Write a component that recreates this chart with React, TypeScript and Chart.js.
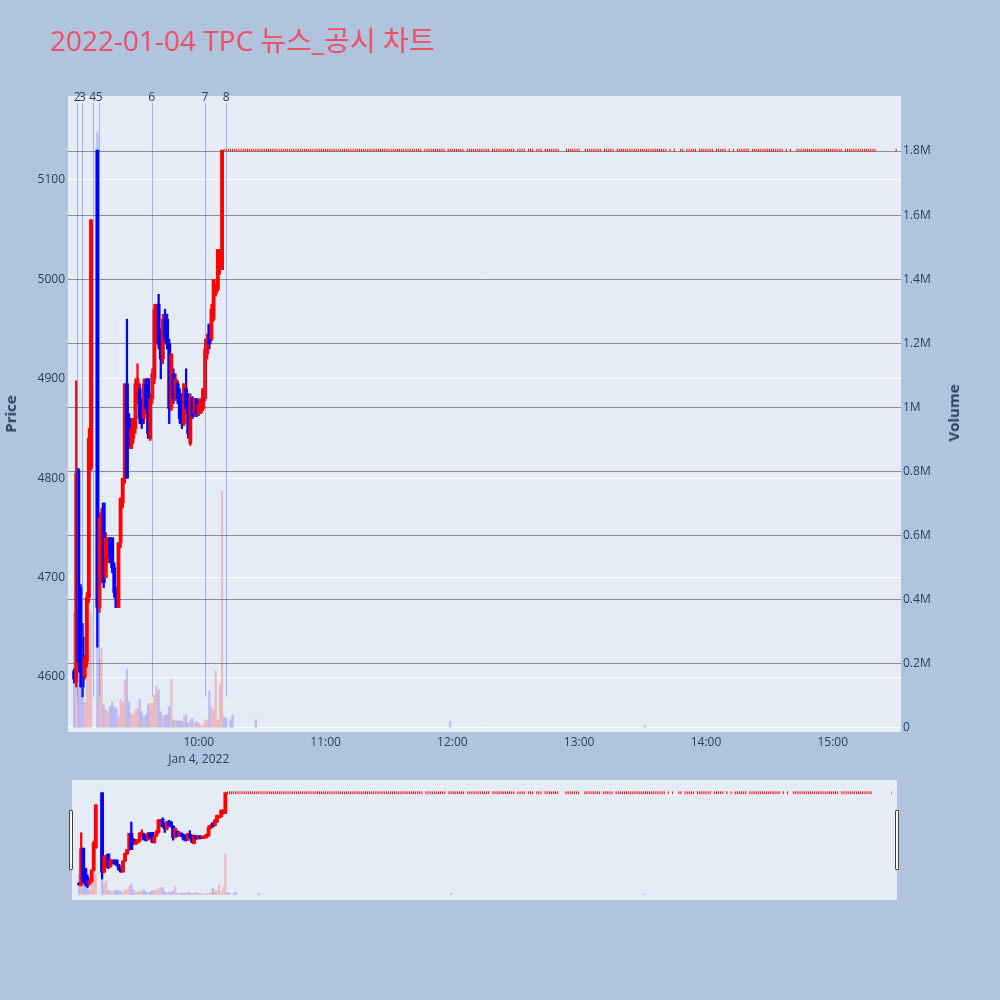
import React, { useEffect, useRef } from "react";
import { Chart, registerables } from "chart.js";

Chart.register(...registerables);

// ---------------- data ----------------
const TITLE = "2022-01-04 TPC 뉴스_공시 차트";
const DATE_LABEL = "Jan 4, 2022";

// First session: one candle per minute, minute = index + 1 (minutes after 09:00); null = no trade (VI halt)
const openPrices: (number | null)[] = [
  4606, 4595, 4808, 4690, 4640, 4600, 4615, 4680, 4810, null, null, 5130,
  4670, 4700, 4775, 4700, 4720, 4740, 4740, 4710, 4690, 4670, 4735, 4775,
  4800, 4895, 4860, 4830, 4840, 4850, 4880, 4890, 4880, 4860, 4895, 4900,
  4840, 4880, 4900, 4940, 4975, 4945, 4920, 4960, 4960, 4935, 4870, 4905,
  4880, 4895, 4885, 4880, 4855, 4890, 4880, 4835, 4880, 4865, 4880, 4865,
  4866, 4870, 4880, 4925, 4955, 4940, 4960, 4985, 4990, 5010, 5010,
];
const highPrices: (number | null)[] = [
  4608, 4898, 4810, 4693, 4654, 4622, 4685, 4850, 5060, null, null, 5130,
  4765, 4770, 4775, 4745, 4740, 4740, 4740, 4715, 4690, 4735, 4780, 4800,
  4895, 4960, 4865, 4860, 4860, 4900, 4915, 4895, 4880, 4900, 4900, 4900,
  4885, 4910, 4975, 4975, 4985, 4950, 4965, 4970, 4965, 4940, 4925, 4910,
  4905, 4898, 4890, 4885, 4895, 4910, 4885, 4885, 4882, 4880, 4880, 4878,
  4880, 4890, 4940, 4945, 4955, 4975, 5000, 4995, 5030, 5030, 5130,
];
const lowPrices: (number | null)[] = [
  4594, 4590, 4605, 4590, 4580, 4598, 4610, 4675, 4808, null, null, 4630,
  4665, 4695, 4690, 4700, 4715, 4715, 4705, 4680, 4670, 4670, 4730, 4770,
  4795, 4800, 4830, 4830, 4835, 4845, 4875, 4855, 4850, 4855, 4865, 4840,
  4838, 4875, 4895, 4935, 4930, 4900, 4915, 4935, 4930, 4855, 4868, 4875,
  4878, 4875, 4855, 4850, 4853, 4865, 4840, 4833, 4860, 4862, 4862, 4863,
  4865, 4868, 4878, 4920, 4930, 4938, 4958, 4983, 4988, 5005, 5010,
];
const closePrices: (number | null)[] = [
  4598, 4805, 4615, 4605, 4590, 4620, 4680, 4840, 5060, null, null, 4670,
  4760, 4765, 4695, 4740, 4740, 4720, 4710, 4685, 4670, 4735, 4780, 4800,
  4895, 4800, 4835, 4850, 4860, 4895, 4900, 4860, 4855, 4895, 4870, 4845,
  4880, 4905, 4970, 4975, 4935, 4920, 4960, 4940, 4935, 4870, 4925, 4880,
  4900, 4880, 4860, 4855, 4895, 4870, 4845, 4880, 4862, 4880, 4865, 4875,
  4880, 4890, 4930, 4940, 4935, 4970, 5000, 4990, 5030, 5030, 5130,
];
const volumes: (number | null)[] = [
  360000, 150000, 420000, 210000, 120000, 80000, 330000, 400000, 360000, null, null, 1860000,
  212000, 250000, 72000, 56000, 51000, 67000, 82000, 67000, 61000, 35000, 87000, 82000,
  150000, 184000, 82000, 46000, 41000, 56000, 61000, 89000, 51000, 35000, 41000, 72000,
  77000, 77000, 103000, 131000, 119000, 51000, 37000, 41000, 41000, 67000, 152000, 25000,
  23000, 23000, 23000, 20000, 37000, 41000, 15000, 25000, 30000, 15000, 20000, 15000,
  9000, 9000, 25000, 25000, 116000, 67000, 56000, 178000, 25000, 136000, 740000,
];

// After 10:11 the stock sat at the upper limit; minute ranges (after 09:00) with trades at the limit
const limitPrice = 5130;
const limitTradeRanges: [number, number][] = [
  [72, 165], [167, 176], [178, 185], [187, 197], [199, 209], [211, 214], [216, 218],
  [220, 222], [224, 230], [234, 240], [243, 250], [252, 256], [258, 281], [283, 283],
  [285, 285], [288, 289], [291, 295], [297, 303], [305, 309], [311, 311], [313, 313],
  [315, 320], [322, 336], [338, 338], [340, 340], [343, 364], [366, 380], [390, 390],
];
// visible volumes during the limit phase: [minute, volume]
const limitVolumes: [number, number][] = [
  [72, 34000], [73, 30000], [75, 25000], [76, 40000], [87, 25000], [179, 20000], [271, 8000],
];

// News / disclosure markers
const eventLabels = ["2", "3", "4", "5", "6", "7", "8"];
const eventMinutes = [2.5, 4.9, 9.8, 12.9, 37.7, 62.9, 72.9];
const eventLineLow = 4580;

// Axes
const xTickMinutes = [60, 120, 180, 240, 300, 360];
const xTickLabels = ["10:00", "11:00", "12:00", "13:00", "14:00", "15:00"];
const priceTicks = [4600, 4700, 4800, 4900, 5000, 5100];
const volumeTicks = [0, 200000, 400000, 600000, 800000, 1000000, 1200000, 1400000, 1600000, 1800000];
const volumeTickLabels = ["0", "0.2M", "0.4M", "0.6M", "0.8M", "1M", "1.2M", "1.4M", "1.6M", "1.8M"];

// ---------------- styles ----------------
const PAPER = "#B0C4DE";
const PLOT_BG = "#E5ECF6";
const FONT = "'Open Sans', 'Noto Sans CJK KR', sans-serif";
const TEXT = "#2a3f5f";
const UP = "#FF0000";
const DOWN = "#0000FF";
const VOL_UP = "rgba(255,0,0,0.2)";
const VOL_DOWN = "rgba(0,0,255,0.2)";
const EVENT_LINE = "rgba(65,105,225,0.42)";
const VOL_GRID = "rgb(140,140,140)";

type Candle = { m: number; o: number; h: number; l: number; c: number; v: number; inc: boolean };

function buildCandles(): Candle[] {
  const list: Candle[] = [];
  openPrices.forEach((o, i) => {
    if (o == null) return;
    list.push({ m: i + 1, o, h: highPrices[i] as number, l: lowPrices[i] as number, c: closePrices[i] as number, v: volumes[i] ?? 0, inc: true });
  });
  const volMap = new Map<number, number>(limitVolumes);
  for (const [a, b] of limitTradeRanges) {
    for (let m = a; m <= b; m++) {
      list.push({ m, o: limitPrice, h: limitPrice, l: limitPrice, c: limitPrice, v: volMap.get(m) ?? 0, inc: true });
    }
  }
  // plotly-style direction: equal open/close keeps previous direction
  let inc = true;
  let prevClose: number | null = null;
  for (const c of list) {
    if (c.c === c.o) {
      if (prevClose !== null && c.c !== prevClose) inc = c.c > prevClose;
    } else inc = c.c > c.o;
    c.inc = inc;
    prevClose = c.c;
  }
  return list;
}

const candles = buildCandles();

function buildDatasets(): any[] {
  const moving = candles.filter((c) => c.h !== c.l);
  const flat = candles.filter((c) => c.h === c.l);
  const vols = candles.filter((c) => c.v > 0);
  return [
    {
      type: "bar", label: "Volume", yAxisID: "y2", order: 4, grouped: false, barThickness: 1.6,
      data: vols.map((c) => ({ x: c.m, y: c.v })),
      backgroundColor: vols.map((c) => (c.c > c.o ? VOL_UP : VOL_DOWN)),
    },
    {
      type: "bar", label: "wick", yAxisID: "y", order: 3, grouped: false, barThickness: 1.6,
      data: moving.map((c) => ({ x: c.m, y: [c.l, c.h] })),
      backgroundColor: moving.map((c) => (c.inc ? UP : DOWN)),
    },
    {
      type: "bar", label: "body", yAxisID: "y", order: 2, grouped: false, barThickness: 3.2,
      data: moving.map((c) => ({ x: c.m, y: [c.o, c.c] })),
      backgroundColor: moving.map((c) => (c.inc ? UP : DOWN)),
    },
    {
      type: "scatter", label: "limit", yAxisID: "y", order: 1,
      data: flat.map((c) => ({ x: c.m, y: c.c })),
      pointStyle: "line", rotation: 90, radius: 1.4, borderWidth: 1,
      borderColor: flat.map((c) => (c.inc ? UP : DOWN)),
      backgroundColor: flat.map((c) => (c.inc ? UP : DOWN)),
    },
  ];
}

const plotBgPlugin = {
  id: "plotBg",
  beforeDraw(chart: any) {
    const { ctx, chartArea } = chart;
    ctx.save();
    ctx.fillStyle = PLOT_BG;
    ctx.fillRect(chartArea.left, chartArea.top, chartArea.right - chartArea.left, chartArea.bottom - chartArea.top);
    ctx.restore();
  },
};

const eventPlugin = {
  id: "events",
  afterDatasetsDraw(chart: any) {
    const { ctx, chartArea } = chart;
    const xs = chart.scales.x;
    const ys = chart.scales.y;
    ctx.save();
    ctx.strokeStyle = EVENT_LINE;
    ctx.lineWidth = 1;
    eventMinutes.forEach((m) => {
      const px = Math.round(xs.getPixelForValue(m)) + 0.5;
      ctx.beginPath();
      ctx.moveTo(px, ys.getPixelForValue(eventLineLow));
      ctx.lineTo(px, chartArea.top + 7);
      ctx.stroke();
    });
    ctx.fillStyle = TEXT;
    ctx.font = "12px " + FONT;
    ctx.textAlign = "center";
    ctx.textBaseline = "middle";
    eventMinutes.forEach((m, i) => {
      ctx.fillText(eventLabels[i], xs.getPixelForValue(m), chartArea.top + 2);
    });
    ctx.restore();
  },
};

function mainConfig(): any {
  return {
    type: "bar",
    data: { datasets: buildDatasets() },
    plugins: [plotBgPlugin, eventPlugin],
    options: {
      animation: false,
      responsive: false,
      devicePixelRatio: 1,
      events: [],
      layout: { padding: { left: 0, right: 0, top: 96, bottom: 0 } },
      plugins: { legend: { display: false }, tooltip: { enabled: false }, title: { display: false } },
      scales: {
        x: {
          type: "linear", offset: false, min: -1.9, max: 392.3,
          grid: { display: false }, border: { display: false },
          afterBuildTicks: (s: any) => { s.ticks = xTickMinutes.map((v) => ({ value: v })); },
          afterFit: (s: any) => { s.height = 38; },
          ticks: {
            autoSkip: false, maxRotation: 0, padding: -6, color: TEXT,
            font: { family: FONT, size: 12, lineHeight: 1.4 },
            callback: (v: number) => {
              const i = xTickMinutes.indexOf(v);
              const lbl = i >= 0 ? xTickLabels[i] : "";
              return i === 0 ? [lbl, DATE_LABEL] : lbl;
            },
          },
        },
        y: {
          type: "linear", position: "left", min: 4544.7, max: 5184.5,
          grid: { color: "#ffffff", lineWidth: 1, drawTicks: false }, border: { display: false },
          afterBuildTicks: (s: any) => { s.ticks = priceTicks.map((v) => ({ value: v })); },
          afterFit: (s: any) => { s.width = 68; },
          ticks: { padding: 3, color: TEXT, font: { family: FONT, size: 12 }, callback: (v: number) => String(v) },
        },
        y2: {
          type: "linear", position: "right", min: -12500, max: 1971600,
          grid: {
            drawTicks: false, lineWidth: 1,
            color: volumeTicks.map((v) => (v === 0 ? "#ffffff" : VOL_GRID)),
          },
          border: { display: false },
          afterBuildTicks: (s: any) => { s.ticks = volumeTicks.map((v) => ({ value: v })); },
          afterFit: (s: any) => { s.width = 99; },
          ticks: {
            padding: 2, color: TEXT, font: { family: FONT, size: 12 },
            callback: (v: number) => {
              const i = volumeTicks.indexOf(v);
              return i >= 0 ? volumeTickLabels[i] : "";
            },
          },
        },
      },
    },
  };
}

function sliderConfig(): any {
  return {
    type: "bar",
    data: { datasets: buildDatasets() },
    options: {
      animation: false,
      responsive: false,
      devicePixelRatio: 1,
      events: [],
      layout: { padding: 0 },
      plugins: { legend: { display: false }, tooltip: { enabled: false } },
      scales: {
        x: { type: "linear", offset: false, min: 0, max: 390, display: false },
        y: { type: "linear", min: 4537, max: 5175, display: false },
        y2: { type: "linear", min: -10000, max: 1990000, display: false },
      },
    },
  };
}

export default function App() {
  const mainRef = useRef<HTMLCanvasElement>(null);
  const sliderRef = useRef<HTMLCanvasElement>(null);

  useEffect(() => {
    const main = new Chart(mainRef.current as HTMLCanvasElement, mainConfig());
    const slider = new Chart(sliderRef.current as HTMLCanvasElement, sliderConfig());
    return () => {
      main.destroy();
      slider.destroy();
    };
  }, []);

  const handle: React.CSSProperties = {
    position: "absolute", top: 810, width: 2, height: 58,
    background: "#ffffff", border: "1px solid #444", borderRadius: 1,
  };

  return (
    <div style={{ position: "absolute", left: 0, top: 0, width: 1000, height: 1000, background: PAPER, overflow: "hidden" }}>
      <div
        style={{
          position: "absolute", left: 50, top: 26, fontFamily: FONT, fontSize: 28, lineHeight: "28px",
          color: "#ee5167", whiteSpace: "nowrap",
        }}
      >
        {TITLE}
      </div>
      <canvas ref={mainRef} width={1000} height={770} style={{ position: "absolute", left: 0, top: 0, width: 1000, height: 770 }} />
      <div
        style={{
          position: "absolute", left: 10, top: 414, transform: "translate(-50%, -50%) rotate(-90deg)",
          fontFamily: FONT, fontSize: 15, fontWeight: 700, color: TEXT, whiteSpace: "nowrap", lineHeight: "18px",
        }}
      >
        Price
      </div>
      <div
        style={{
          position: "absolute", left: 953, top: 413, transform: "translate(-50%, -50%) rotate(-90deg)",
          fontFamily: FONT, fontSize: 15, fontWeight: 700, color: TEXT, whiteSpace: "nowrap", lineHeight: "18px",
        }}
      >
        Volume
      </div>
      <canvas
        ref={sliderRef}
        width={825}
        height={120}
        style={{ position: "absolute", left: 72, top: 780, width: 825, height: 120, background: PLOT_BG }}
      />
      <div style={{ ...handle, left: 69 }} />
      <div style={{ ...handle, left: 895 }} />
    </div>
  );
}
